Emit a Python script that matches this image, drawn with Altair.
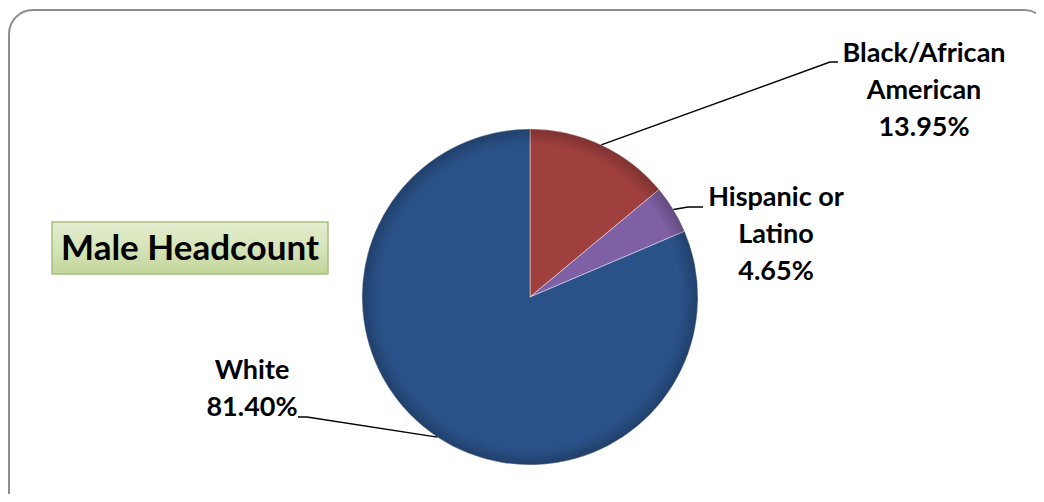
import math
import altair as alt
import pandas as pd

# ---------------- data ----------------
categories = ["Black/African American", "Hispanic or Latino", "White"]
values = [13.95, 4.65, 81.40]
label_names = ["Black/African\nAmerican", "Hispanic or\nLatino", "White"]
colors = ["#A0403E", "#7F60A4", "#2A5289"]
title_text = "Male Headcount"

# ---------------- layout (chart pixel coords) ----------------
W, H = 1028, 486
CX, CY, R = 522, 289, 168
FONT = "Lato"
# label block anchor (centre x, first line y) and leader elbows/ends
label_xy = {"Black/African American": (916, 46),
            "Hispanic or Latino": (768, 190),
            "White": (244, 363)}
leader_pts = {"Black/African American": [(822, 54), (830, 54)],
              "Hispanic or Latino": [(680, 199), (695, 199)],
              "White": [(299, 409), (290, 409)]}

df = pd.DataFrame({"category": categories, "value": values,
                   "order": list(range(len(categories)))})

# label table
total = sum(values)
rows, line_rows = [], []
cum = 0.0
for i, (c, v, n) in enumerate(zip(categories, values, label_names)):
    mid = (cum + v / 2) / total * 2 * math.pi
    cum += v
    lx, ly = label_xy[c]
    rows.append({"category": c, "text": f"{n}\n{v:.2f}%", "x": lx, "y": ly})
    sx = CX + R * math.sin(mid)
    sy = CY - R * math.cos(mid)
    pts = [(sx, sy)] + leader_pts[c]
    for k, (px, py) in enumerate(pts):
        line_rows.append({"category": c, "k": k, "x": px, "y": py})
labels = pd.DataFrame(rows)
leaders = pd.DataFrame(line_rows)

# ---------------- layers ----------------
frame = alt.Chart(pd.DataFrame({"a": [0]})).mark_rect(
    fillOpacity=0, stroke="#8f8f8f", strokeWidth=2, cornerRadius=24
).encode(x=alt.value(1), x2=alt.value(1040), y=alt.value(2), y2=alt.value(540))

pie = alt.Chart(df).mark_arc(
    radius=R, stroke="#ffffff", strokeWidth=1, strokeOpacity=0.45
).encode(
    theta=alt.Theta("value:Q", stack=True),
    order=alt.Order("order:Q"),
    color=alt.Color("category:N", scale=alt.Scale(domain=categories, range=colors),
                    legend=None),
    x=alt.value(CX), y=alt.value(CY),
)

shade = alt.Chart(pd.DataFrame({"a": [0]})).mark_arc(
    radius=R, theta=0, theta2=2 * math.pi,
    color={"gradient": "radial", "x1": 0.5, "y1": 0.5, "r1": 0,
           "x2": 0.5, "y2": 0.5, "r2": 0.5,
           "stops": [{"offset": 0, "color": "rgba(0,0,0,0)"},
                     {"offset": 0.9, "color": "rgba(0,0,0,0)"},
                     {"offset": 1, "color": "rgba(0,0,0,0.22)"}]},
).encode(x=alt.value(CX), y=alt.value(CY))

lines = alt.Chart(leaders).mark_line(color="#000000", strokeWidth=1.4).encode(
    x=alt.X("x:Q", scale=None), y=alt.Y("y:Q", scale=None),
    detail="category:N", order="k:Q",
)

text = alt.Chart(labels).mark_text(
    font=FONT, fontSize=27, fontWeight="bold", color="#000000",
    align="center", baseline="middle", lineBreak="\n", lineHeight=37,
).encode(x=alt.X("x:Q", scale=None), y=alt.Y("y:Q", scale=None), text="text:N")

title_box = alt.Chart(pd.DataFrame({"a": [0]})).mark_rect(
    color={"gradient": "linear", "x1": 0, "y1": 0, "x2": 0, "y2": 1,
           "stops": [{"offset": 0, "color": "#e3edcf"},
                     {"offset": 0.5, "color": "#d6e4b9"},
                     {"offset": 1, "color": "#c2d59a"}]},
    stroke="#a9bf80", strokeWidth=1.5,
).encode(x=alt.value(44), x2=alt.value(320), y=alt.value(214), y2=alt.value(266))

title = alt.Chart(pd.DataFrame({"t": [title_text]})).mark_text(
    font=FONT, fontSize=35, fontWeight="bold", color="#000000",
    align="center", baseline="middle",
).encode(x=alt.value(182), y=alt.value(241), text="t:N")

chart = alt.layer(frame, pie, shade, lines, text, title_box, title).properties(
    width=W, height=H, padding=0, autosize=alt.AutoSizeParams(type="none"),
    background="#ffffff",
).configure_view(stroke=None)

chart.save("out.html", embed_options={"renderer": "svg", "actions": False})
